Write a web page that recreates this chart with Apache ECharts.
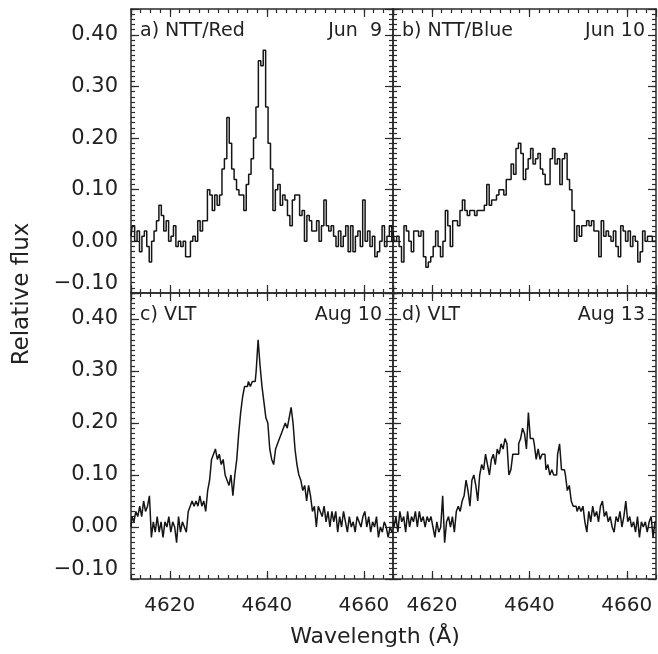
<!DOCTYPE html>
<html><head><meta charset="utf-8">
<script src="https://cdn.jsdelivr.net/npm/echarts@6/dist/echarts.min.js"></script>
<style>html,body{margin:0;padding:0;background:#fff}#c{width:658px;height:654px}</style>
</head><body><div id="c"></div>
<script>
// Wavelength grids (start and bin width of each spectrum)
const waveStart = 4612.0;
const binNTT = 0.5;
const binVLT = 0.4;

// a) NTT/Red  Jun 9
const fluxA = [0.01,0.03,0.00,0.02,-0.02,0.01,0.02,-0.01,-0.04,0.00,0.02,0.04,0.07,0.05,0.02,0.04,
0.00,0.01,0.03,-0.01,0.00,-0.01,0.00,-0.03,-0.03,0.00,0.01,0.00,0.04,0.02,0.04,0.04,
0.10,0.09,0.06,0.09,0.07,0.09,0.14,0.16,0.24,0.19,0.14,0.12,0.10,0.09,0.09,0.06,
0.11,0.13,0.16,0.20,0.26,0.35,0.34,0.37,0.26,0.19,0.14,0.06,0.10,0.11,0.07,0.09,
0.08,0.05,0.03,0.08,0.09,0.09,0.05,0.06,0.00,0.05,0.04,0.02,0.02,0.04,0.00,0.03,
0.08,0.03,0.02,0.03,0.01,-0.01,0.02,-0.01,0.01,0.03,-0.02,0.03,-0.02,0.01,0.02,-0.01,
0.08,0.00,0.02,-0.01,0.01,-0.03,-0.02,0.00,0.03,-0.01,0.01,0.03,0.00];

// b) NTT/Blue  Jun 10
const fluxB = [0.02,0.00,0.01,-0.01,-0.04,0.03,0.02,0.00,-0.02,0.02,0.02,0.01,0.02,-0.03,-0.05,-0.04,
-0.03,-0.01,0.02,-0.01,-0.03,0.00,0.06,0.03,-0.01,0.04,0.04,0.03,0.06,0.08,0.06,0.05,
0.06,0.06,0.05,0.06,0.06,0.06,0.07,0.11,0.07,0.08,0.08,0.09,0.10,0.10,0.09,0.12,
0.12,0.15,0.13,0.18,0.19,0.17,0.12,0.14,0.16,0.18,0.15,0.16,0.17,0.14,0.13,0.11,
0.11,0.16,0.18,0.15,0.16,0.11,0.16,0.17,0.12,0.10,0.06,0.00,0.03,0.01,0.03,0.03,
0.04,0.03,0.04,0.02,0.02,-0.03,0.04,0.01,0.02,0.01,0.00,0.02,-0.01,-0.03,0.03,0.02,
0.00,0.02,-0.01,0.01,0.00,-0.04,-0.02,0.02,0.00,0.01,0.01,0.00,0.00];

// c) VLT  Aug 10
const fluxC = [0.00,0.02,0.01,0.03,0.02,0.04,0.02,0.05,0.03,0.04,0.06,-0.02,0.01,-0.01,0.02,-0.01,
0.01,-0.02,0.01,0.00,0.02,-0.01,0.01,0.00,-0.03,0.02,-0.01,0.01,0.00,-0.01,0.03,0.04,
0.05,0.04,0.05,0.04,0.06,0.04,0.05,0.03,0.07,0.09,0.13,0.14,0.15,0.13,0.14,0.12,
0.13,0.10,0.09,0.08,0.10,0.06,0.10,0.13,0.18,0.22,0.25,0.27,0.27,0.28,0.27,0.28,
0.28,0.30,0.36,0.31,0.27,0.24,0.21,0.20,0.15,0.13,0.12,0.15,0.16,0.17,0.18,0.19,
0.20,0.19,0.21,0.23,0.20,0.15,0.12,0.10,0.09,0.07,0.08,0.05,0.08,0.06,0.03,0.04,
0.00,0.04,0.03,0.02,0.04,0.01,0.03,0.00,0.03,0.01,0.03,-0.01,0.02,0.00,0.03,0.01,
-0.01,0.02,0.00,0.01,-0.01,0.02,0.01,0.00,0.02,0.03,0.00,0.02,-0.01,0.01,0.00,0.02,
-0.02,0.00,-0.01,0.01,0.00,-0.02,0.00,-0.01];

// d) VLT  Aug 13
const fluxD = [0.01,0.00,0.02,-0.01,0.03,0.01,0.02,-0.01,0.03,0.00,0.02,0.01,0.03,0.00,0.03,0.01,
0.02,0.00,0.02,0.01,0.02,0.00,-0.02,0.01,-0.01,0.00,0.06,-0.03,0.01,0.02,0.00,0.02,
-0.01,0.03,0.04,0.03,0.05,0.06,0.09,0.07,0.04,0.09,0.10,0.08,0.05,0.10,0.12,0.11,
0.14,0.12,0.10,0.13,0.14,0.12,0.15,0.14,0.16,0.15,0.17,0.16,0.10,0.11,0.14,0.14,
0.14,0.16,0.17,0.19,0.18,0.15,0.22,0.17,0.17,0.16,0.13,0.15,0.13,0.14,0.14,0.11,
0.12,0.10,0.11,0.10,0.10,0.14,0.16,0.11,0.11,0.10,0.07,0.08,0.05,0.04,0.04,0.03,
0.04,0.03,0.04,0.01,-0.01,0.03,0.01,0.04,0.02,0.03,0.01,0.04,0.05,0.02,0.03,0.01,
0.02,0.00,-0.01,0.02,0.01,0.03,0.00,0.02,0.05,0.01,0.02,0.00,0.01,-0.01,0.02,-0.02,
0.01,0.00,0.01,-0.01,0.01,0.02,-0.02,0.01];

const panelNames = ['a) NTT/Red', 'b) NTT/Blue', 'c) VLT', 'd) VLT'];
const panelDates = ['Jun  9', 'Jun 10', 'Aug 10', 'Aug 13'];
const panelFlux = [fluxA, fluxB, fluxC, fluxD];
const panelBins = [binNTT, binNTT, binVLT, binVLT];
const xRange = [4612, 4666];
const yRange = [-0.10, 0.45];
const yStep = 0.10;
const xTitle = 'Wavelength (Å)';
const yTitle = 'Relative flux';

const FONT = 'DejaVu Sans';
const INK = '#222';
const grids = [
  {left: 131, top: 9, width: 262, height: 284},
  {left: 393, top: 9, width: 263, height: 284},
  {left: 131, top: 293, width: 262, height: 286},
  {left: 393, top: 293, width: 263, height: 286}
];

const xAxes = [], yAxes = [], series = [], graphics = [];
const lineSty = {color: '#2a2a2a', width: 1.5};
const tickSty = {color: '#2a2a2a', width: 1.2};

function yFmt(v) {
  if (Math.abs(v - yRange[1]) < 1e-9) return '';
  if (Math.abs(v) < 1e-9) v = 0;
  const s = v.toFixed(2).replace('-', '\u2212');
  return Math.abs(v - yRange[0]) < 1e-9 ? '{lo|' + s + '}' : s;
}
function xFmt(v) {
  return (Math.abs(v % 20) < 1e-9) ? String(v) : '';
}

for (let p = 0; p < 4; p++) {
  const showX = p >= 2, showY = p % 2 === 0;
  ['bottom', 'top'].forEach(pos => {
    xAxes.push({
      gridIndex: p, type: 'value', position: pos, min: xRange[0], max: xRange[1], splitNumber: 3,
      axisLine: {show: true, onZero: false, lineStyle: lineSty},
      axisTick: {show: true, inside: true, length: 8, lineStyle: tickSty},
      axisLabel: {show: showX && pos === 'bottom', formatter: xFmt, margin: 17,
        fontFamily: FONT, fontSize: 20, color: INK, showMinLabel: false, showMaxLabel: false},
      splitLine: {show: false}
    });
    xAxes.push({
      gridIndex: p, type: 'value', position: pos, min: xRange[0], max: xRange[1], interval: 2,
      axisLine: {show: false, onZero: false},
      axisTick: {show: true, inside: true, length: 4, lineStyle: tickSty},
      axisLabel: {show: false}, splitLine: {show: false}
    });
  });
  ['left', 'right'].forEach(pos => {
    yAxes.push({
      gridIndex: p, type: 'value', position: pos, min: yRange[0], max: yRange[1], interval: yStep,
      axisLine: {show: true, onZero: false, lineStyle: lineSty},
      axisTick: {show: true, inside: true, length: 8, lineStyle: tickSty},
      axisLabel: {show: showY && pos === 'left', formatter: yFmt, margin: 13,
        fontFamily: FONT, fontSize: 21, color: INK,
        rich: {lo: {fontFamily: FONT, fontSize: 21, color: INK, padding: [0, 0, 18, 0]}}},
      splitLine: {show: false}
    });
    yAxes.push({
      gridIndex: p, type: 'value', position: pos, min: yRange[0], max: yRange[1], interval: yStep / 10,
      axisLine: {show: false, onZero: false},
      axisTick: {show: true, inside: true, length: 4, lineStyle: tickSty},
      axisLabel: {show: false}, splitLine: {show: false}
    });
  });
  const flux = panelFlux[p], bin = panelBins[p];
  series.push({
    type: 'line', step: 'middle', xAxisIndex: p * 4, yAxisIndex: p * 4,
    symbol: 'none', animation: false,
    lineStyle: {color: '#151515', width: 1.5},
    data: flux.map((v, i) => [waveStart + i * bin, v])
  });
  const g = grids[p];
  const ty = g.top + 22;
  graphics.push({type: 'text', x: g.left + 9, y: ty,
    style: {text: panelNames[p], font: '19px "DejaVu Sans"', fill: INK, textAlign: 'left', textVerticalAlign: 'middle'}});
  graphics.push({type: 'text', x: g.left + g.width - 11, y: ty,
    style: {text: panelDates[p], font: '19px "DejaVu Sans"', fill: INK, textAlign: 'right', textVerticalAlign: 'middle'}});
}

graphics.push({type: 'text', x: 375, y: 637,
  style: {text: xTitle, font: '22px "DejaVu Sans"', fill: INK, textAlign: 'center', textVerticalAlign: 'middle'}});
graphics.push({type: 'text', x: 22, y: 294, rotation: Math.PI / 2,
  style: {text: yTitle, font: '23px "DejaVu Sans"', fill: INK, textAlign: 'center', textVerticalAlign: 'middle'}});

const chart = echarts.init(document.getElementById('c'), null, {renderer: 'canvas'});
chart.setOption({
  animation: false,
  backgroundColor: '#fff',
  grid: grids,
  xAxis: xAxes,
  yAxis: yAxes,
  series: series,
  graphic: graphics
});
</script></body></html>
